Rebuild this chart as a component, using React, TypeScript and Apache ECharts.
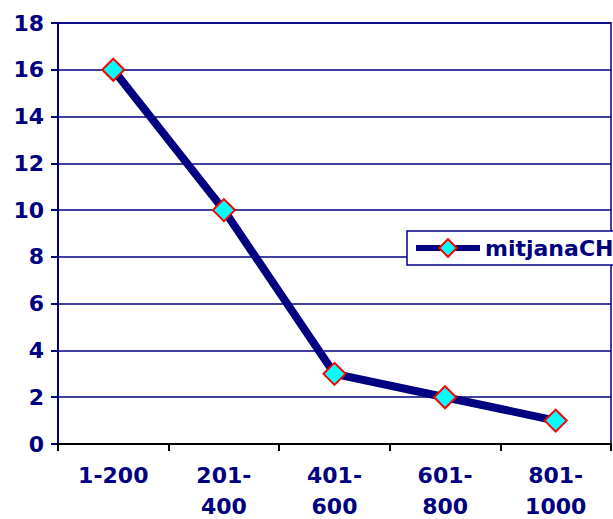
import React, { useEffect, useRef } from "react";
import * as echarts from "echarts";

const categories = ["1-200", "201-\n400", "401-\n600", "601-\n800", "801-\n1000"];
const seriesName = "mitjanaCH";
const values = [16, 10, 3, 2, 1];
const yTicks = { min: 0, max: 18, interval: 2 };

const NAVY = "#000080";
const FONT = "DejaVu Sans";

export default function App() {
  const ref = useRef<HTMLDivElement>(null);
  useEffect(() => {
    if (!ref.current) return;
    const chart = echarts.init(ref.current, null, { renderer: "svg" });
    chart.setOption({
      animation: false,
      backgroundColor: "#ffffff",
      grid: {
        left: 58,
        right: 2,
        top: 23,
        bottom: 75,
        outerBoundsMode: "none",
        containLabel: false,
        show: true,
        borderColor: NAVY,
        borderWidth: 1.5,
        backgroundColor: "transparent",
      },
      legend: {
        data: [seriesName],
        left: 407,
        top: 231,
        orient: "horizontal",
        backgroundColor: "#ffffff",
        borderColor: NAVY,
        borderWidth: 1.5,
        borderRadius: 0,
        padding: [6, 6, 6, 6],
        itemWidth: 64,
        itemHeight: 22,
        itemGap: 5,
        lineStyle: { width: 6, color: NAVY },
        textStyle: { color: NAVY, fontFamily: FONT, fontWeight: "bold", fontSize: 22 },
      },
      xAxis: {
        type: "category",
        data: categories,
        boundaryGap: true,
        axisLine: { show: true, lineStyle: { color: "#000000", width: 2 } },
        axisTick: { show: true, length: 7, lineStyle: { color: "#000000", width: 2 } },
        axisLabel: {
          color: NAVY,
          fontFamily: FONT,
          fontWeight: "bold",
          fontSize: 22,
          lineHeight: 31,
          margin: 16,
          interval: 0,
        },
        splitLine: { show: false },
      },
      yAxis: {
        type: "value",
        min: yTicks.min,
        max: yTicks.max,
        interval: yTicks.interval,
        axisLine: { show: true, lineStyle: { color: NAVY, width: 2 } },
        axisTick: { show: true, length: 7, lineStyle: { color: NAVY, width: 2 } },
        axisLabel: {
          color: NAVY,
          fontFamily: FONT,
          fontWeight: "bold",
          fontSize: 22,
          margin: 14,
        },
        splitLine: { show: true, lineStyle: { color: NAVY, width: 1.5 } },
      },
      series: [
        {
          name: seriesName,
          type: "line",
          data: values,
          symbol: "diamond",
          symbolSize: 22,
          lineStyle: { color: NAVY, width: 8 },
          itemStyle: { color: "#00ffff", borderColor: "#ff0000", borderWidth: 2 },
        },
      ],
    });
    return () => chart.dispose();
  }, []);
  return <div ref={ref} style={{ width: 613, height: 519, position: "absolute", left: 0, top: 0 }} />;
}
